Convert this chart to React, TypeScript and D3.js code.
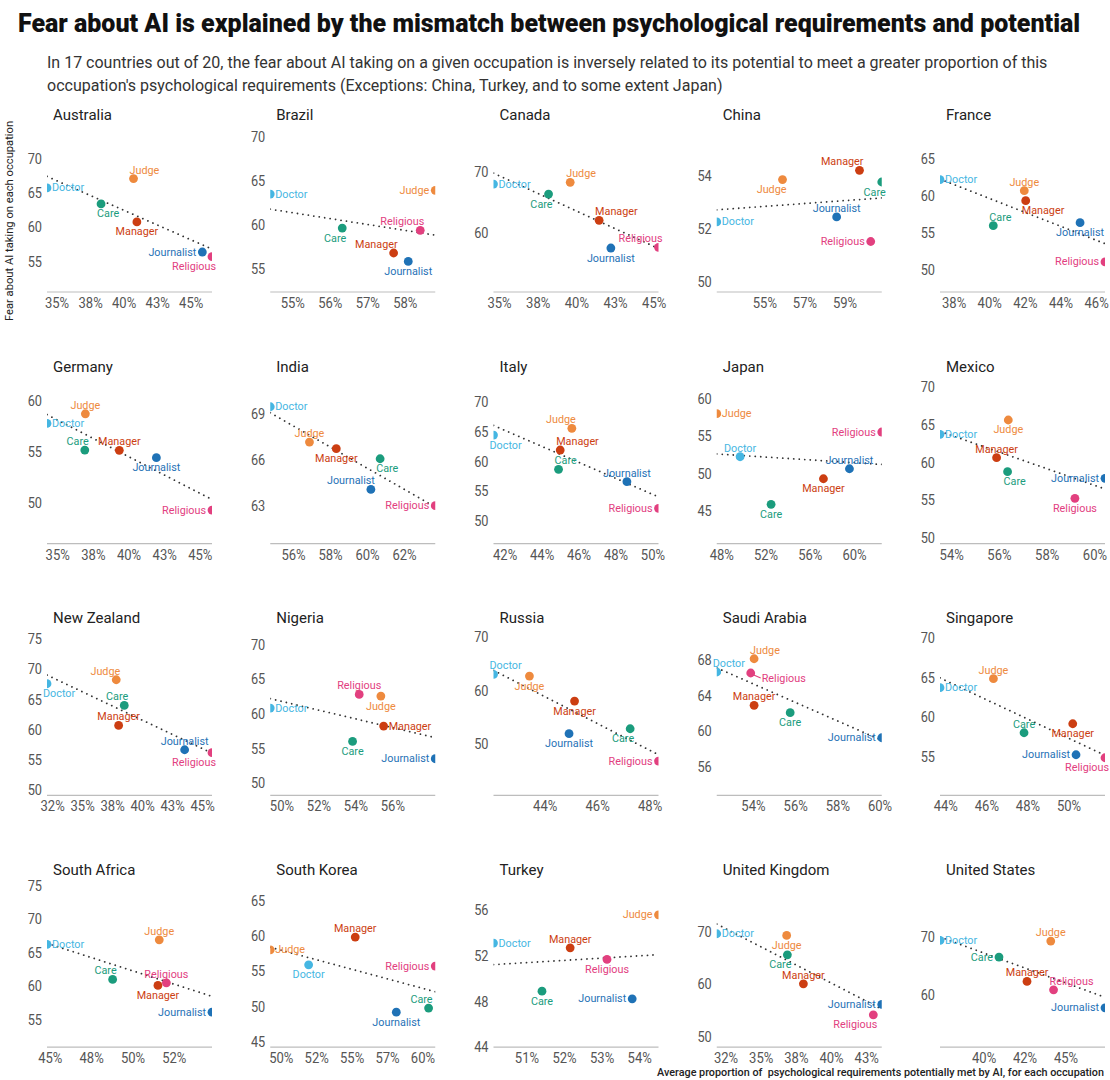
import React from "react";
import * as d3 from "d3";

const occupations = ["Doctor", "Judge", "Care", "Manager", "Journalist", "Religious"];
const occupationColors = ["#45b6e2", "#ee8a3e", "#1b9c7d", "#cc3e12", "#1f72b6", "#e2407f"];

const countries = [
  "Australia", "Brazil", "Canada", "China", "France",
  "Germany", "India", "Italy", "Japan", "Mexico",
  "New Zealand", "Nigeria", "Russia", "Saudi Arabia", "Singapore",
  "South Africa", "South Korea", "Turkey", "United Kingdom", "United States",
];

// Average % of psychological requirements potentially met by AI (order = occupations)
const potential = [
  [34.25, 40.7, 38.28, 40.95, 45.83, 46.55],
  [54.4, 58.8, 56.32, 57.69, 58.08, 58.4],
  [34.61, 39.57, 38.17, 41.44, 42.2, 45.28],
  [52.6, 55.88, 60.83, 59.72, 58.58, 60.28],
  [37.21, 41.94, 40.2, 42.02, 45.07, 46.47],
  [34.25, 36.94, 36.9, 39.32, 41.92, 45.82],
  [54.74, 56.86, 60.68, 58.31, 60.18, 63.66],
  [41.37, 45.61, 44.89, 44.98, 48.59, 50.3],
  [49.66, 47.55, 52.46, 57.19, 59.54, 62.46],
  [53.51, 56.37, 56.34, 55.88, 60.42, 59.16],
  [32.03, 37.8, 38.47, 38.0, 43.5, 45.78],
  [49.37, 55.35, 53.82, 55.5, 58.29, 54.18],
  [42.03, 43.4, 47.24, 45.12, 44.91, 48.32],
  [52.26, 54.03, 55.74, 54.03, 60.08, 53.87],
  [43.72, 46.32, 47.81, 50.18, 50.34, 51.75],
  [44.8, 51.59, 48.77, 51.51, 54.78, 52.02],
  [51.93, 49.22, 60.4, 55.22, 58.12, 60.87],
  [50.11, 54.5, 51.4, 52.15, 53.8, 53.13],
  [31.84, 36.81, 36.86, 38.0, 43.57, 42.97],
  [37.31, 44.07, 40.91, 42.62, 47.38, 44.24],
];

// Fear about AI taking on each occupation
const fear = [
  [65.7, 67.07, 63.37, 60.73, 56.34, 55.66],
  [63.46, 63.88, 59.61, 56.78, 55.83, 59.35],
  [68.03, 68.31, 66.39, 62.08, 57.54, 57.65],
  [52.25, 53.85, 53.76, 54.2, 52.44, 51.51],
  [62.16, 60.68, 55.95, 59.32, 56.35, 51.04],
  [57.8, 58.75, 55.18, 55.15, 54.43, 49.28],
  [69.43, 67.13, 66.04, 66.7, 64.04, 62.98],
  [64.42, 65.55, 58.62, 61.89, 56.54, 52.03],
  [52.23, 57.96, 45.89, 49.3, 50.63, 55.52],
  [63.72, 65.62, 58.76, 60.62, 57.88, 55.22],
  [67.55, 68.21, 63.96, 60.65, 56.62, 56.13],
  [60.82, 62.55, 56.01, 58.22, 53.51, 62.79],
  [63.0, 62.69, 52.81, 58.0, 51.88, 46.75],
  [66.59, 68.07, 62.05, 62.87, 59.26, 66.48],
  [63.71, 64.85, 58.0, 59.14, 55.21, 54.83],
  [66.19, 66.89, 60.97, 60.07, 56.09, 60.47],
  [55.87, 58.0, 49.73, 59.8, 49.16, 55.69],
  [53.09, 55.56, 48.89, 52.68, 48.22, 51.66],
  [69.5, 69.18, 65.53, 60.06, 56.16, 54.21],
  [69.31, 69.2, 66.44, 62.24, 57.7, 60.8],
];

const fearDomains = [
  [50.5, 74.6], [52.36, 71.06], [50.33, 77.38], [49.6, 55.84], [46.98, 69.28],
  [45.97, 62.2], [60.5, 71.26], [46.06, 73.94], [40.65, 62.62], [49.2, 71.1],
  [49.06, 76.38], [48.22, 72.02], [40.31, 71.25], [52.83, 71.23], [50.06, 70.97],
  [50.87, 75.5], [44.2, 67.6], [44.0, 58.42], [48.11, 79.25], [50.92, 79.37],
];

const xTickValues = [
  [35, 37.5, 40, 42.5, 45], [55, 56, 57, 58], [35, 37.5, 40, 42.5, 45], [55, 57, 59], [38, 40, 42, 44, 46],
  [35, 37.5, 40, 42.5, 45], [56, 58, 60, 62], [42, 44, 46, 48, 50], [48, 52, 56, 60], [54, 56, 58, 60],
  [32.5, 35, 37.5, 40, 42.5, 45], [50, 52, 54, 56], [44, 46, 48], [54, 56, 58, 60], [44, 46, 48, 50],
  [45, 47.5, 50, 52.5], [50, 52.5, 55, 57.5, 60], [51, 52, 53, 54], [32.5, 35, 37.5, 40, 42.5], [40, 42.5, 45],
];
const xTickLabels = [
  ["35%", "38%", "40%", "43%", "45%"], ["55%", "56%", "57%", "58%"], ["35%", "38%", "40%", "43%", "45%"], ["55%", "57%", "59%"], ["38%", "40%", "42%", "44%", "46%"],
  ["35%", "38%", "40%", "43%", "45%"], ["56%", "58%", "60%", "62%"], ["42%", "44%", "46%", "48%", "50%"], ["48%", "52%", "56%", "60%"], ["54%", "56%", "58%", "60%"],
  ["32%", "35%", "38%", "40%", "43%", "45%"], ["50%", "52%", "54%", "56%"], ["44%", "46%", "48%"], ["54%", "56%", "58%", "60%"], ["44%", "46%", "48%", "50%"],
  ["45%", "48%", "50%", "52%"], ["50%", "52%", "55%", "57%", "60%"], ["51%", "52%", "53%", "54%"], ["32%", "35%", "38%", "40%", "43%"], ["40%", "42%", "45%"],
];
const yTickValues = [
  [55, 60, 65, 70], [55, 60, 65, 70], [60, 70], [50, 52, 54], [50, 55, 60, 65],
  [50, 55, 60], [63, 66, 69], [50, 55, 60, 65, 70], [45, 50, 55, 60], [50, 55, 60, 65, 70],
  [50, 55, 60, 65, 70, 75], [50, 55, 60, 65, 70], [50, 60, 70], [56, 60, 64, 68], [55, 60, 65, 70],
  [55, 60, 65, 70, 75], [45, 50, 55, 60, 65], [44, 48, 52, 56], [50, 60, 70], [60, 70],
];

// Label placement relative to each point (order = occupations)
const labelPlacement = [
  ["r", "tr", "br", "b", "l", "bl"],
  ["r", "l", "bl", "tl", "b", "tl"],
  ["r", "tr", "bl", "tr", "b", "tl"],
  ["r", "bl", "bl", "tl", "t", "l"],
  ["r", "t", "tr", "br", "b", "l"],
  ["r", "t", "tl", "t", "b", "l"],
  ["r", "t", "br", "b", "tl", "l"],
  ["br", "tl", "tr", "tr", "t", "l"],
  ["t", "r", "b", "b", "t", "l"],
  ["r", "b", "br", "t", "l", "b"],
  ["br", "tl", "tl", "t", "t", "bl"],
  ["r", "b", "b", "r", "l", "t"],
  ["tr", "b", "bl", "b", "b", "l"],
  ["tr", "tr", "b", "t", "l", "rd"],
  ["r", "t", "t", "b", "l", "bl"],
  ["r", "t", "tl", "b", "l", "t"],
  ["b", "r", "tl", "t", "b", "l"],
  ["r", "l", "b", "t", "l", "b"],
  ["r", "b", "bl", "t", "l", "bl"],
  ["r", "t", "l", "t", "l", "tr"],
];

const FONT = "Roboto, 'Noto Sans', sans-serif";

function labelPos(code: string, px: number, py: number) {
  switch (code) {
    case "r": return { x: px + 5, y: py, anchor: "start" };
    case "l": return { x: px - 6, y: py, anchor: "end" };
    case "t": return { x: px, y: py - 8.5, anchor: "middle" };
    case "b": return { x: px, y: py + 10, anchor: "middle" };
    case "tr": return { x: px - 4, y: py - 8.5, anchor: "start" };
    case "tl": return { x: px + 4, y: py - 8.5, anchor: "end" };
    case "br": return { x: px - 4, y: py + 10, anchor: "start" };
    case "bl": return { x: px + 4, y: py + 10, anchor: "end" };
    case "rd": return { x: px + 11, y: py + 6, anchor: "start" };
    default: return { x: px + 5, y: py, anchor: "start" };
  }
}

export default function App() {
  const W = 1110, H = 1080;
  const plotW = 165, plotH = 165;
  const col0 = 47, colStep = 223.25;
  const axis0 = 292, rowStep = 251.7;

  const panels = countries.map((name, i) => {
    const col = i % 5, row = Math.floor(i / 5);
    const left = col0 + col * colStep;
    const bottom = axis0 + row * rowStep;
    const top = bottom - plotH;
    const xs = potential[i];
    const ys = fear[i];
    const ext = d3.extent(xs) as [number, number];
    const x = d3.scaleLinear().domain(ext).range([left, left + plotW]);
    const y = d3.scaleLinear().domain(fearDomains[i]).range([bottom, top]);
    const mx = d3.mean(xs) as number, my = d3.mean(ys) as number;
    const sxy = d3.sum(xs, (v, k) => (v - mx) * (ys[k] - my));
    const sxx = d3.sum(xs, (v) => (v - mx) * (v - mx));
    const slope = sxy / sxx;
    const trend = d3.line()([
      [x(ext[0]), y(my + slope * (ext[0] - mx))],
      [x(ext[1]), y(my + slope * (ext[1] - mx))],
    ]) as string;
    const clipId = `clip-${i}`;
    return (
      <g key={name}>
        <defs>
          <clipPath id={clipId}>
            <rect x={left} y={top - 30} width={plotW} height={plotH + 30} />
          </clipPath>
        </defs>
        <text x={left + 6} y={bottom - 172} fontFamily={FONT} fontSize={15} fontWeight={400} fill="#222">
          {name}
        </text>
        <line x1={left} x2={left + plotW} y1={bottom} y2={bottom} stroke="#bdbdbd" strokeWidth={1.2} />
        {yTickValues[i].map((v) => (
          <g key={"y" + v} transform={`translate(${left - 5},${y(v)}) scale(0.85,1)`}>
            <text textAnchor="end" dominantBaseline="central" fontFamily={FONT} fontSize={15} fill="#555">
              {v}
            </text>
          </g>
        ))}
        {xTickValues[i].map((v, k) => (
          <g key={"x" + v} transform={`translate(${x(v)},${bottom + 16}) scale(0.87,1)`}>
            <text textAnchor="middle" fontFamily={FONT} fontSize={15} fill="#555">
              {xTickLabels[i][k]}
            </text>
          </g>
        ))}
        <path d={trend} stroke="#333" strokeWidth={1.8} strokeDasharray="0.01 5.5" strokeLinecap="round" fill="none" clipPath={`url(#${clipId})`} />
        <g clipPath={`url(#${clipId})`}>
          {xs.map((v, k) => (
            <circle key={k} cx={x(v)} cy={y(ys[k])} r={4.4} fill={occupationColors[k]} />
          ))}
        </g>
        {xs.map((v, k) => {
          const px = x(v), py = y(ys[k]);
          const code = labelPlacement[i][k];
          const p = labelPos(code, px, py);
          return (
            <g key={"l" + k}>
              {code === "rd" && (
                <line x1={px + 3} y1={py + 2} x2={px + 10} y2={py + 5} stroke={occupationColors[k]} strokeWidth={1.2} />
              )}
              <text x={p.x} y={p.y} textAnchor={p.anchor as any} dominantBaseline="central" fontFamily={FONT} fontSize={10.8} fill={occupationColors[k]}>
                {occupations[k]}
              </text>
            </g>
          );
        })}
      </g>
    );
  });

  return (
    <div style={{ position: "absolute", left: 0, top: 0 }}>
      <svg width={W} height={H} viewBox={`0 0 ${W} ${H}`} style={{ display: "block", background: "#fff" }}>
        <rect width={W} height={H} fill="#fff" />
        <text x={18} y={32} fontFamily={FONT} fontSize={25} fontWeight={900} fill="#111">
          Fear about AI is explained by the mismatch between psychological requirements and potential
        </text>
        <text x={47} y={68} fontFamily={FONT} fontSize={16} fill="#333">
          In 17 countries out of 20, the fear about AI taking on a given occupation is inversely related to its potential to meet a greater proportion of this
        </text>
        <text x={47} y={91} fontFamily={FONT} fontSize={16} fill="#333">
          occupation's psychological requirements (Exceptions: China, Turkey, and to some extent Japan)
        </text>
        <text transform="translate(13,221) rotate(-90)" textAnchor="middle" fontFamily={FONT} fontSize={11.2} fill="#222">
          Fear about AI taking on each occupation
        </text>
        <text x={1104} y={1076} textAnchor="end" fontFamily={FONT} fontSize={10.8} fontWeight={500} fill="#222" style={{ whiteSpace: "pre" }}>
          Average proportion of  psychological requirements potentially met by AI, for each occupation
        </text>
        {panels}
      </svg>
    </div>
  );
}
